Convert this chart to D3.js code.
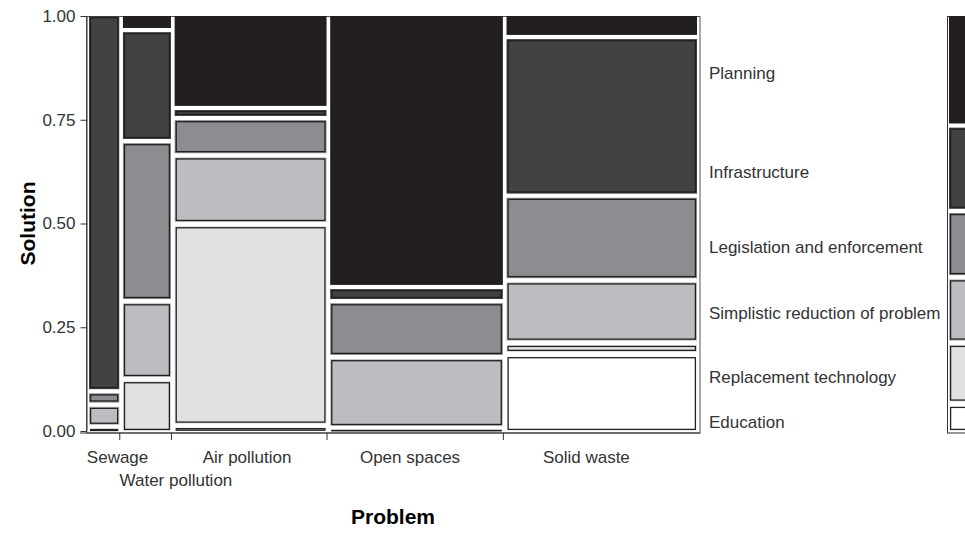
<!DOCTYPE html>
<html>
<head>
<meta charset="utf-8">
<script src="https://cdn.jsdelivr.net/npm/d3@7"></script>
<style>
    body { margin: 0; background: #fff; }
    svg { display: block; font-family: "Liberation Sans", Arial, sans-serif; }
    .axis text { font-size: 17px; fill: #333; }
    .axis path, .axis line { stroke: #333; }
</style>
</head>
<body>
<div id="chart"></div>
<script>
const problems = ['Sewage', 'Water pollution', 'Air pollution', 'Open spaces', 'Solid waste'];
// share of all answers per problem (column widths)
const problemShare = [0.051, 0.081, 0.256, 0.291, 0.321];
// where the axis labels sit on the 0-1 x scale
const problemBreaks = [0.047, 0.143, 0.260, 0.528, 0.818];

const solutions = ['Planning', 'Infrastructure', 'Legislation and enforcement',
    'Simplistic reduction of problem', 'Replacement technology', 'Education'];
const solutionColors = ['#231f20', '#414244', '#8c8d90', '#bcbdc0', '#e0e1e3', '#ffffff'];

// share of each solution within a problem, same order as solutions
const sewage = [0, 0.927, 0.023, 0.045, 0, 0.005];
const waterPollution = [0.030, 0.268, 0.391, 0.185, 0.125, 0];
const airPollution = [0.228, 0.015, 0.084, 0.164, 0.501, 0.008];
const openSpaces = [0.675, 0.025, 0.130, 0.168, 0, 0.002];
const solidWaste = [0.048, 0.392, 0.204, 0.148, 0.018, 0.190];

const yTicks = [0, 0.25, 0.5, 0.75, 1];

const byProblem = [sewage, waterPollution, airPollution, openSpaces, solidWaste];

const width = 965;
const height = 554;
const gapX = 0.006;
const gapY = 0.01;

const x = d3.scaleLinear().domain([0, 1]).range([89, 697]);
const y = d3.scaleLinear().domain([0, 1]).range([431, 16]);

const svg = d3.select('#chart')
    .append('svg')
    .attr('width', width)
    .attr('height', height);

// stack one column from the bottom (Education) to the top (Planning)
function stack(values) {
    const idx = d3.range(values.length).reverse().filter(i => values[i] > 0);
    const total = d3.sum(idx, i => values[i]);
    const avail = 1 - gapY * (idx.length - 1);
    let pos = 0;
    return idx.map(i => {
        const h = values[i] / total * avail;
        const t = {sol: i, y0: pos, y1: pos + h};
        pos += h + gapY;
        return t;
    });
}

const tiles = [];
const columns = [];
let cx = 0;
const availX = 1 - gapX * (problems.length - 1);
problems.forEach((p, j) => {
    const w = problemShare[j] * availX;
    columns.push({x0: cx, x1: cx + w});
    stack(byProblem[j]).forEach(t => tiles.push(Object.assign({x0: cx, x1: cx + w}, t)));
    cx += w + gapX;
});

function drawTiles(g, data, xs) {
    g.selectAll('.fill')
        .data(data)
        .enter().append('rect')
        .attr('class', 'fill')
        .attr('x', d => xs(d.x0))
        .attr('y', d => y(d.y1))
        .attr('width', d => xs(d.x1) - xs(d.x0))
        .attr('height', d => y(d.y0) - y(d.y1))
        .attr('fill', d => solutionColors[d.sol]);

    g.selectAll('.outline')
        .data(data)
        .enter().append('rect')
        .attr('class', 'outline')
        .each(function (d) {
            const h = y(d.y0) - y(d.y1);
            const inset = Math.min(1.6, h / 4);
            d3.select(this)
                .attr('x', xs(d.x0) + 1.6)
                .attr('y', y(d.y1) + inset)
                .attr('width', xs(d.x1) - xs(d.x0) - 3.2)
                .attr('height', Math.max(0, h - 2 * inset));
        })
        .attr('fill', d => solutionColors[d.sol])
        .attr('stroke', '#231f20')
        .attr('stroke-width', 1.3);
}

// main panel frame
svg.append('rect')
    .attr('x', 86.5).attr('y', 16.5)
    .attr('width', 700 - 86.5).attr('height', 433 - 16.5)
    .attr('fill', 'none')
    .attr('stroke', '#555')
    .attr('stroke-width', 1);

drawTiles(svg.append('g'), tiles, x);

// y axis
svg.append('g')
    .attr('class', 'axis')
    .attr('transform', 'translate(86.5,0)')
    .call(d3.axisLeft(y).tickValues(yTicks).tickFormat(d3.format('.2f')).tickSize(6).tickSizeOuter(0).tickPadding(5));

// x axis: tick marks on the column borders
const borders = columns.slice(0, -1).map(c => c.x1);
svg.append('g')
    .attr('class', 'axis')
    .attr('transform', 'translate(0,433)')
    .call(d3.axisBottom(x).tickValues(borders).tickFormat('').tickSize(7).tickSizeOuter(0))
    .call(g => g.select('.domain').remove());

svg.append('line')
    .attr('x1', 80).attr('x2', 700)
    .attr('y1', 433).attr('y2', 433)
    .attr('stroke', '#333');

// x labels, pushed to a second row when they would overlap
const labels = svg.append('g').attr('class', 'axis');
let lastRight = -Infinity;
problems.forEach((p, j) => {
    const t = labels.append('text')
        .attr('x', x(problemBreaks[j]))
        .attr('text-anchor', 'middle')
        .text(p);
    const bb = t.node().getBBox();
    if (bb.x < lastRight + 4) {
        t.attr('y', 486);
    } else {
        t.attr('y', 463);
        lastRight = bb.x + bb.width;
    }
});

// marginal bar on the right
const overall = solutions.map((s, i) => d3.sum(byProblem, (v, j) => v[i] * problemShare[j]));
const xm = d3.scaleLinear().domain([0, 1]).range([949, 1010]);
svg.append('rect')
    .attr('x', 947.5).attr('y', 16.5)
    .attr('width', 80).attr('height', 433 - 16.5)
    .attr('fill', 'none')
    .attr('stroke', '#333');
const margTiles = stack(overall).map(t => Object.assign({x0: 0, x1: 1}, t));
drawTiles(svg.append('g'), margTiles, xm);

svg.append('g')
    .attr('class', 'axis')
    .selectAll('text')
    .data(margTiles)
    .enter().append('text')
    .attr('x', 709)
    .attr('y', d => y((d.y0 + d.y1) / 2))
    .attr('dy', '0.55em')
    .text(d => solutions[d.sol]);

// titles
svg.append('text')
    .attr('transform', `translate(35,${y(0.5)}) rotate(-90)`)
    .attr('text-anchor', 'middle')
    .attr('font-size', 21)
    .attr('font-weight', 'bold')
    .text('Solution');

svg.append('text')
    .attr('x', 393)
    .attr('y', 524)
    .attr('text-anchor', 'middle')
    .attr('font-size', 21)
    .attr('font-weight', 'bold')
    .text('Problem');
</script>
</body>
</html>
